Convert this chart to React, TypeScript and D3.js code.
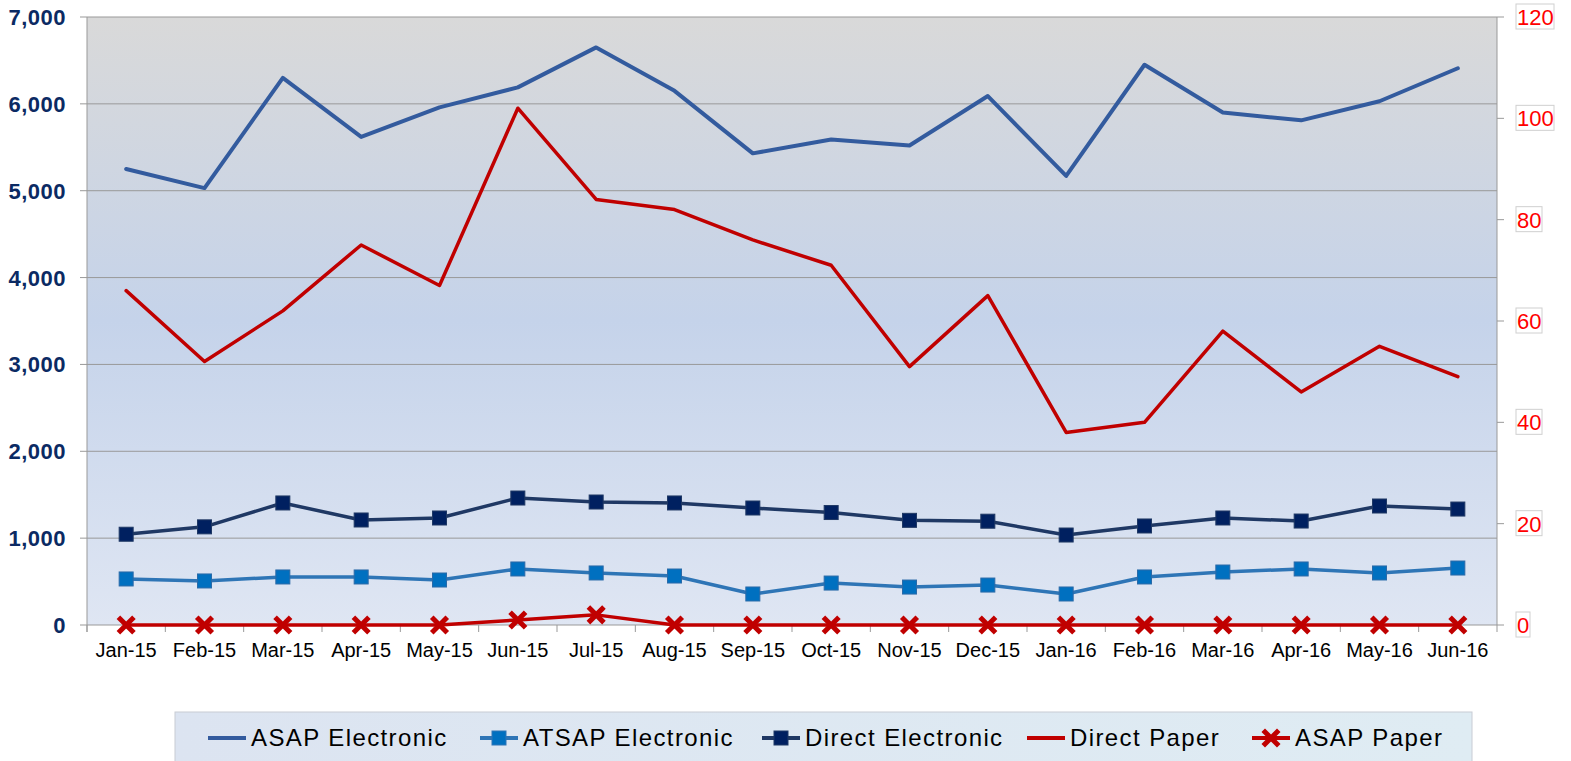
import React from "react";
import * as d3 from "d3";

const categories = ["Jan-15","Feb-15","Mar-15","Apr-15","May-15","Jun-15","Jul-15","Aug-15","Sep-15","Oct-15","Nov-15","Dec-15","Jan-16","Feb-16","Mar-16","Apr-16","May-16","Jun-16"];
const asapElectronic = [5250,5030,6300,5620,5960,6190,6650,6150,5430,5590,5520,6090,5170,6450,5900,5810,6030,6410];
const atsapElectronic = [530,507,553,553,518,645,599,564,357,483,437,460,357,553,610,645,599,656];
const directElectronic = [1045,1130,1405,1209,1232,1462,1416,1405,1347,1295,1205,1195,1036,1140,1232,1197,1370,1335];
const directPaper = [66,52,62,75,67,102,84,82,76,71,51,65,38,40,58,46,55,49];
const asapPaper = [0,0,0,0,0,1,2,0,0,0,0,0,0,0,0,0,0,0];
const leftTicks = [0,1000,2000,3000,4000,5000,6000,7000];
const rightTicks = [0,20,40,60,80,100,120];

const W = 1571, H = 761;
const M = { left: 87, right: 1497, top: 17, bottom: 625 };

export default function App() {
  const x = d3.scaleBand().domain(categories).range([M.left, M.right]).padding(0);
  const yL = d3.scaleLinear().domain([0, 7000]).range([M.bottom, M.top]);
  const yR = d3.scaleLinear().domain([0, 120]).range([M.bottom, M.top]);
  const cx = (c: string) => (x(c) as number) + x.bandwidth() / 2;
  const lineL = d3.line<number>().x((_, i) => cx(categories[i])).y((v) => yL(v));
  const lineR = d3.line<number>().x((_, i) => cx(categories[i])).y((v) => yR(v));

  const square = (px: number, py: number, fill: string, stroke: string, key: any) => (
    <rect key={key} x={px - 7} y={py - 7} width={14} height={14} fill={fill} stroke={stroke} strokeWidth={1} />
  );
  const cross = (px: number, py: number, key: any) => (
    <g key={key} transform={`translate(${px},${py})`}>
      <path d="M-6,-6L6,6M6,-6L-6,6" stroke="#c00000" strokeWidth={5} strokeLinecap="square" />
    </g>
  );

  const legendItems = [
    { label: "ASAP Electronic", color: "#335b9e", marker: "none", lx: 208 },
    { label: "ATSAP Electronic", color: "#2e75b6", marker: "sq", fill: "#0070c0", lx: 480 },
    { label: "Direct Electronic", color: "#1f3864", marker: "sq", fill: "#002060", lx: 762 },
    { label: "Direct Paper", color: "#c00000", marker: "none", lx: 1027 },
    { label: "ASAP Paper", color: "#c00000", marker: "x", lx: 1252 },
  ];

  return (
    <svg width={W} height={H} style={{ position: "absolute", left: 0, top: 0, fontFamily: "Liberation Sans, Arial, sans-serif" }}>
      <defs>
        <linearGradient id="bg" x1="0" y1="0" x2="0" y2="1">
          <stop offset="0%" stopColor="#d9d9d9" />
          <stop offset="50%" stopColor="#c5d3ea" />
          <stop offset="100%" stopColor="#dfe6f3" />
        </linearGradient>
        <linearGradient id="lg" x1="0" y1="0" x2="1" y2="0">
          <stop offset="0%" stopColor="#dce4f1" />
          <stop offset="100%" stopColor="#dfecf3" />
        </linearGradient>
      </defs>
      <rect x={0} y={0} width={W} height={H} fill="#ffffff" />
      <rect x={M.left} y={M.top} width={M.right - M.left} height={M.bottom - M.top} fill="url(#bg)" />
      {leftTicks.map((t) => (
        <g key={"gl" + t}>
          <line x1={M.left - 7} x2={M.right} y1={yL(t)} y2={yL(t)} stroke="#999999" strokeWidth={1} />
          <text x={66} y={yL(t) + 8} textAnchor="end" fontSize={22} fontWeight="bold" fill="#0b2a63" letterSpacing={0.5}>{d3.format(",")(t)}</text>
        </g>
      ))}
      <line x1={M.left} x2={M.left} y1={M.top} y2={M.bottom + 7} stroke="#999999" />
      <line x1={M.right} x2={M.right} y1={M.top} y2={M.bottom + 7} stroke="#999999" />
      {categories.map((c, i) => (
        <line key={"xt" + i} x1={x(c) as number} x2={x(c) as number} y1={M.bottom} y2={M.bottom + 7} stroke="#999999" />
      ))}
      {rightTicks.map((t) => (
        <g key={"rt" + t}>
          <line x1={M.right} x2={M.right + 7} y1={yR(t)} y2={yR(t)} stroke="#999999" />
          <rect x={1516} y={yR(t) - 13} width={t >= 100 ? 38 : t >= 10 ? 26 : 14} height={25} fill="#ffffff" stroke="#d0d0d0" />
          <text x={1517} y={yR(t) + 8} fontSize={22} fill="#ff0000">{t}</text>
        </g>
      ))}
      {categories.map((c) => (
        <text key={"xl" + c} x={cx(c)} y={657} textAnchor="middle" fontSize={20} fill="#000">{c}</text>
      ))}
      <path d={lineL(asapElectronic) || ""} fill="none" stroke="#335b9e" strokeWidth={4} strokeLinejoin="round" strokeLinecap="round" />
      <path d={lineL(atsapElectronic) || ""} fill="none" stroke="#2e75b6" strokeWidth={3.5} strokeLinejoin="round" />
      {atsapElectronic.map((v, i) => square(cx(categories[i]), yL(v), "#0070c0", "#2a6aa8", "as" + i))}
      <path d={lineL(directElectronic) || ""} fill="none" stroke="#1f3864" strokeWidth={3.5} strokeLinejoin="round" />
      {directElectronic.map((v, i) => square(cx(categories[i]), yL(v), "#002060", "#1f3864", "de" + i))}
      <path d={lineR(directPaper) || ""} fill="none" stroke="#c00000" strokeWidth={3.5} strokeLinejoin="round" strokeLinecap="round" />
      <path d={lineR(asapPaper) || ""} fill="none" stroke="#c00000" strokeWidth={3.5} strokeLinejoin="round" />
      {asapPaper.map((v, i) => cross(cx(categories[i]), yR(v), "ap" + i))}

      <rect x={175} y={712} width={1297} height={52} fill="url(#lg)" stroke="#c8ccd4" />
      {legendItems.map((it) => (
        <g key={it.label}>
          <line x1={it.lx} x2={it.lx + 38} y1={738} y2={738} stroke={it.color} strokeWidth={4} />
          {it.marker === "sq" && square(it.lx + 19, 738, it.fill as string, it.color, "lm")}
          {it.marker === "x" && cross(it.lx + 19, 738, "lx")}
          <text x={it.lx + 43} y={746} fontSize={24} fill="#000" letterSpacing={1.4}>{it.label}</text>
        </g>
      ))}
    </svg>
  );
}
